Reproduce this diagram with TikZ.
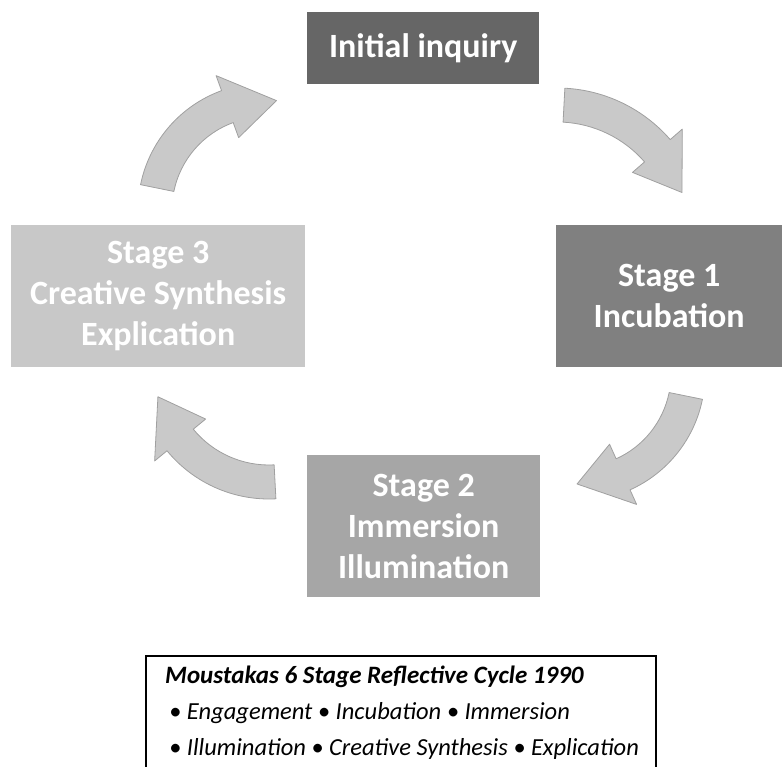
\documentclass[tikz,border=0pt]{standalone}
\usepackage{fontspec}
\setmainfont{Carlito}
\usepackage{xcolor}
\usepackage{tikz}
\usetikzlibrary{calc,positioning}

\definecolor{boxdark}{HTML}{666666}
\definecolor{boxmid}{HTML}{808080}
\definecolor{boxlight}{HTML}{A6A6A6}
\definecolor{boxpale}{HTML}{C8C8C8}
\definecolor{arrowgray}{HTML}{C9C9C9}
\definecolor{arrowedge}{HTML}{A0A0A0}

% curved block arrow: centre, mid radius, tail angle, head base angle, tip angle
\newcommand{\cyclearrow}[5]{%
  \pgfmathsetmacro{\arOut}{#2+17}%
  \pgfmathsetmacro{\arIn}{#2-17}%
  \pgfmathsetmacro{\arHo}{#2+33}%
  \pgfmathsetmacro{\arHi}{#2-33}%
  \filldraw[arrowshape] ($(#1)+(#3:\arOut)$) arc[start angle=#3, end angle=#4, radius=\arOut]
    -- ($(#1)+(#4:\arHo)$) -- ($(#1)+(#5:#2)$) -- ($(#1)+(#4:\arHi)$)
    -- ($(#1)+(#4:\arIn)$) arc[start angle=#4, end angle=#3, radius=\arIn] -- cycle;
}

\begin{document}
\begin{tikzpicture}[x=1pt, y=1pt,
  stagebox/.style={rectangle, inner sep=0pt, anchor=north west, text=white, align=center,
    font=\fontsize{34}{41}\selectfont\bfseries},
  arrowshape/.style={fill=arrowgray, draw=arrowedge, line width=0.8pt, line join=round},
  keytext/.style={anchor=base west, inner sep=0pt, font=\fontsize{24.5}{29}\selectfont\itshape}]
% Canvas
\useasboundingbox (0,0) rectangle (782,-767);
\clip (0,0) rectangle (782,-767);
% Stage boxes
\node[stagebox, fill=boxdark, minimum width=232pt, minimum height=72pt] (inquiry) at (307,-12) {Initial inquiry};
\node[stagebox, fill=boxmid, minimum width=226pt, minimum height=142pt] (stage1) at (556,-225) {Stage 1\\Incubation};
\node[stagebox, fill=boxlight, minimum width=233pt, minimum height=142pt] (stage2) at (307,-455) {Stage 2\\Immersion\\Illumination};
\node[stagebox, fill=boxpale, minimum width=294pt, minimum height=142pt] (stage3) at (11,-225) {Stage 3\\Creative Synthesis\\Explication};
% Arrow centres
\coordinate (turn1) at (265,-210);
\coordinate (turn2) at (557,-238);
\coordinate (turn3) at (578,-374);
\coordinate (turn4) at (269,-367);
% Cycle arrows
\cyclearrow{turn1}{110}{168.5}{110}{84}
\cyclearrow{turn2}{133}{87}{41}{20}
\cyclearrow{turn3}{110}{-11.5}{-65.8}{-90.5}
\cyclearrow{turn4}{115}{273}{219.4}{195}
% Key box
\node[draw, line width=1.5pt, minimum width=510pt, minimum height=140pt, anchor=north west] (legend) at (145,-655) {};
\node[keytext, font=\fontsize{25}{29}\selectfont\bfseries\itshape] (keytitle) at (165,-683) {Moustakas 6 Stage Reflective Cycle 1990};
\node[keytext] (keyline1) at (169,-719) {• Engagement • Incubation • Immersion};
\node[keytext] (keyline2) at (169,-755) {• Illumination • Creative Synthesis • Explication};
\end{tikzpicture}
\end{document}
